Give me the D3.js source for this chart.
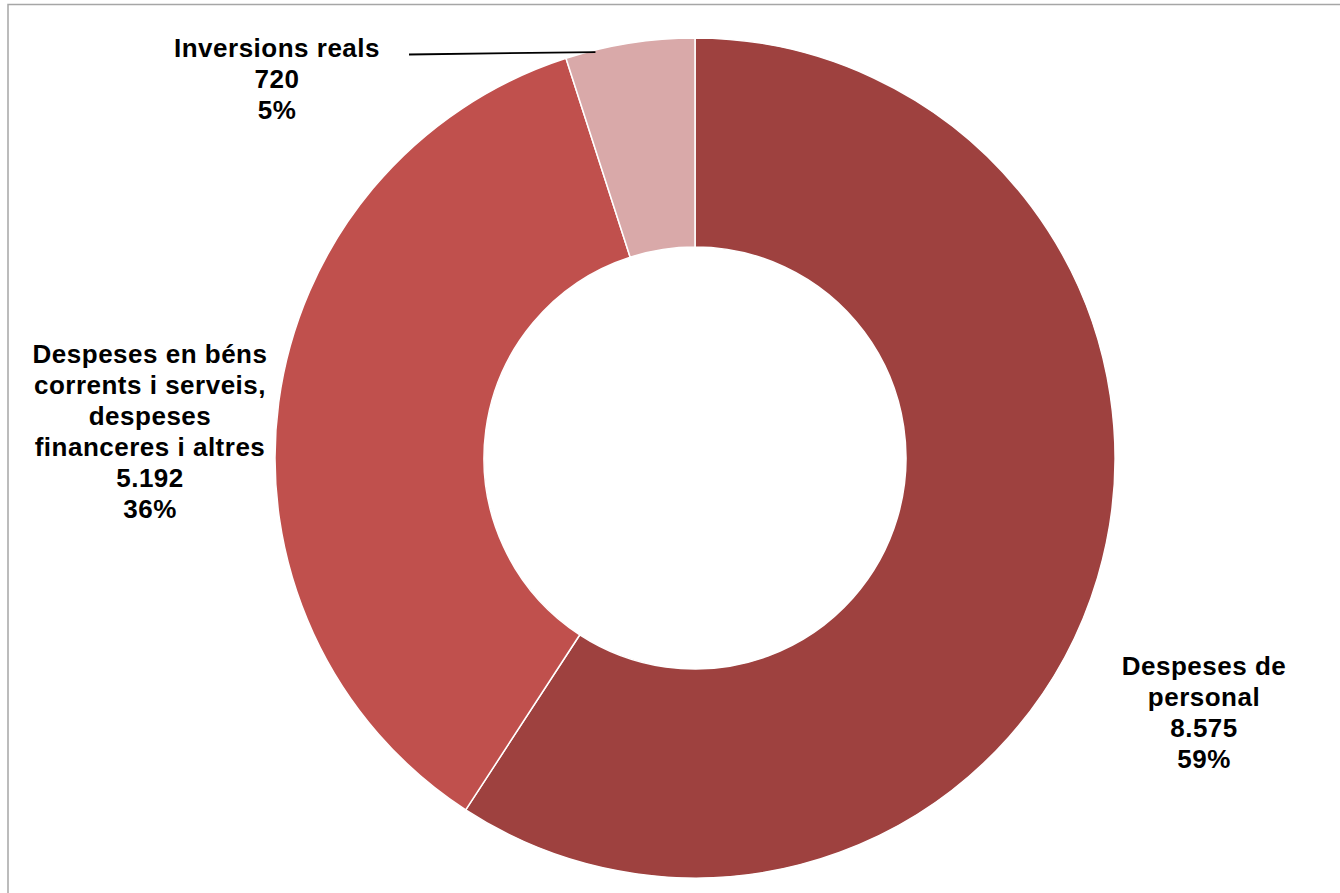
<!DOCTYPE html>
<html>
<head>
<meta charset="utf-8">
<script src="https://cdn.jsdelivr.net/npm/d3@7"></script>
<style>
  html, body { margin: 0; padding: 0; background: #fff; }
  svg { display: block; }
  text { font-family: "Liberation Sans", Arial, sans-serif; font-weight: bold; font-size: 26px; letter-spacing: 0.5px; fill: #000; }
</style>
</head>
<body>
<svg id="chart" width="1340" height="893"></svg>
<script>
// Data
const categories = ["Despeses de personal", "Despeses en béns corrents i serveis, despeses financeres i altres", "Inversions reals"];
const values = [8575, 5192, 720];
const valueLabels = ["8.575", "5.192", "720"];
const percentLabels = ["59%", "36%", "5%"];
const labelLines = [
  ["Despeses de", "personal"],
  ["Despeses en béns", "corrents i serveis,", "despeses", "financeres i altres"],
  ["Inversions reals"]
];
const colors = ["#9E413F", "#C0504D", "#D9A9A9"];

// Layout
const W = 1340, H = 893;
const cx = 695, cy = 458, outerR = 420, innerR = 211;
const lineH = 31;
const labelPos = [
  { x: 1204, y: 675 },
  { x: 150, y: 363 },
  { x: 277, y: 57 }
];

const svg = d3.select("#chart");

// border (plot frame, extends beyond the view)
svg.append("rect")
  .attr("x", 8).attr("y", 4.5)
  .attr("width", W + 20).attr("height", H + 20)
  .attr("fill", "none").attr("stroke", "#a6a6a6").attr("stroke-width", 1.5);

const pie = d3.pie().sort(null).value(d => d)(values);
const arc = d3.arc().innerRadius(innerR).outerRadius(outerR);

const g = svg.append("g").attr("transform", `translate(${cx},${cy})`);
g.selectAll("path").data(pie).join("path")
  .attr("d", arc)
  .attr("fill", (d, i) => colors[i])
  .attr("stroke", "#fff")
  .attr("stroke-width", 1.5)
  .attr("stroke-linejoin", "round");

// leader line for small slice
const small = pie[2];
const a = small.startAngle + 0.23 * (small.endAngle - small.startAngle);
const rL = outerR - 2;
const ex = cx + rL * Math.sin(a), ey = cy - rL * Math.cos(a);
svg.append("line")
  .attr("x1", 409).attr("y1", 54.5)
  .attr("x2", ex).attr("y2", ey)
  .attr("stroke", "#000").attr("stroke-width", 1.8);

// labels
labelPos.forEach((p, i) => {
  const lines = labelLines[i].concat([valueLabels[i], percentLabels[i]]);
  const t = svg.append("text").attr("text-anchor", "middle");
  lines.forEach((ln, j) => {
    t.append("tspan").attr("x", p.x).attr("y", p.y + j * lineH).text(ln);
  });
});
</script>
</body>
</html>
